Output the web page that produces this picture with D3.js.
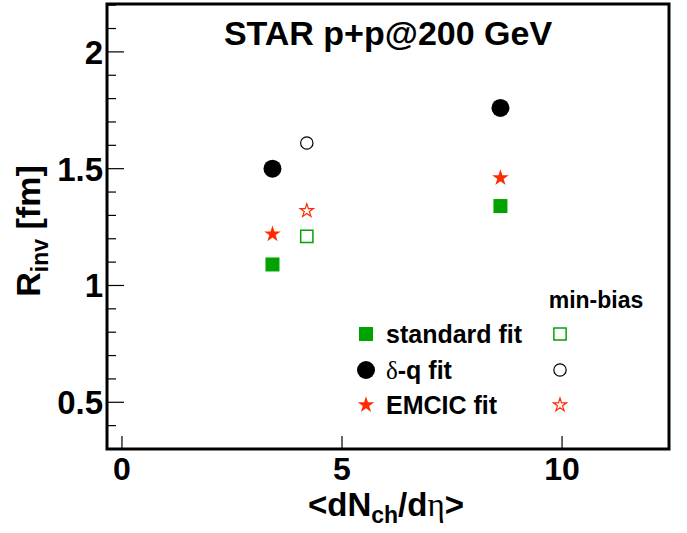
<!DOCTYPE html>
<html><head><meta charset="utf-8">
<script src="https://cdn.jsdelivr.net/npm/d3@7"></script>
<style>body{margin:0;background:#fff}svg{display:block}text{font-family:"Liberation Sans",Arial,sans-serif;font-weight:bold}</style>
</head><body>
<svg id="c" width="687" height="533"></svg>
<script>
// data
const xCent = [3.42, 8.6];          // centrality bins <dNch/deta>
const xMinBias = [4.2];             // min-bias
const stdFit = [1.09, 1.34];
const dqFit = [1.50, 1.76];
const emcicFit = [1.22, 1.46];
const stdMB = [1.21];
const dqMB = [1.61];
const emcicMB = [1.32];
const xTicks = [0, 5, 10];
const yTicks = [0.5, 1, 1.5, 2];
const legendLabels = ["standard fit", "-q fit", "EMCIC fit"];

const green = "#00a300", red = "#ff2a00";
const svg = d3.select("#c");
const L = 107, R = 669, T = 4, B = 449;
const x = d3.scaleLinear().domain([-0.34, 12.43]).range([L, R]);
const y = d3.scaleLinear().domain([0.3, 2.205]).range([B, T]);

// y minor ticks
const yMinor = d3.range(4, 23).map(d => d / 10);
svg.append("g").selectAll("line").data(yMinor).join("line")
  .attr("x1", L).attr("x2", d => yTicks.some(t => Math.abs(t - d) < 1e-6) ? L + 17 : L + 9)
  .attr("y1", d => y(d)).attr("y2", d => y(d))
  .attr("stroke", "#000").attr("stroke-width", 1.2);
svg.append("g").selectAll("line").data(xTicks).join("line")
  .attr("x1", d => x(d)).attr("x2", d => x(d)).attr("y1", B).attr("y2", B - 13)
  .attr("stroke", "#000").attr("stroke-width", 1.2);

// tick labels
svg.append("g").selectAll("text").data(yTicks).join("text")
  .attr("x", L - 4).attr("y", d => y(d) + 12).attr("text-anchor", "end")
  .attr("font-size", 33).text(d => d);
svg.append("g").selectAll("text").data(xTicks).join("text")
  .attr("x", d => x(d)).attr("y", B + 31).attr("text-anchor", "middle")
  .attr("font-size", 32).text(d => d);

// frame
svg.append("rect").attr("x", L).attr("y", T).attr("width", R - L).attr("height", B - T)
  .attr("fill", "none").attr("stroke", "#000").attr("stroke-width", 3);

// title
svg.append("text").attr("x", 388).attr("y", 45).attr("text-anchor", "middle")
  .attr("font-size", 34).text("STAR p+p@200 GeV");

// axis titles
const xt = svg.append("text").attr("x", 386).attr("y", 516).attr("text-anchor", "middle").attr("font-size", 33);
xt.append("tspan").text("<dN");
xt.append("tspan").attr("font-size", 23).attr("dy", 7).text("ch");
xt.append("tspan").attr("dy", -7).text("/d");
xt.append("tspan").attr("font-family", "Liberation Serif").attr("font-weight", "normal").text("η");
xt.append("tspan").text(">");

const yt = svg.append("text").attr("transform", "translate(40,231) rotate(-90)").attr("text-anchor", "middle").attr("font-size", 34);
yt.append("tspan").text("R");
yt.append("tspan").attr("font-size", 23).attr("dy", 8).text("inv");
yt.append("tspan").attr("dy", -8).text(" [fm]");

// markers
const sym = (type, size) => d3.symbol().type(type).size(size)();
function pts(xs, ys, type, size, fill, stroke, sw) {
  svg.append("g").selectAll("path").data(ys).join("path")
    .attr("transform", (d, i) => `translate(${x(xs[i])},${y(d)})`)
    .attr("d", sym(type, size)).attr("fill", fill).attr("stroke", stroke).attr("stroke-width", sw);
}
pts(xCent, stdFit, d3.symbolSquare, 196, green, "none", 0);
pts(xCent, dqFit, d3.symbolCircle, 254, "#000", "none", 0);
pts(xCent, emcicFit, d3.symbolStar, 85, red, "none", 0);
pts(xMinBias, stdMB, d3.symbolSquare, 150, "none", green, 1.5);
pts(xMinBias, dqMB, d3.symbolCircle, 120, "none", "#000", 1.2);
pts(xMinBias, emcicMB, d3.symbolStar, 55, "none", red, 1.2);

// legend
const legY = [334, 370, 405];
const lg = svg.append("g");
lg.append("path").attr("transform", `translate(366,${legY[0]})`).attr("d", sym(d3.symbolSquare, 196)).attr("fill", green);
lg.append("path").attr("transform", `translate(366,${legY[1]})`).attr("d", sym(d3.symbolCircle, 254)).attr("fill", "#000");
lg.append("path").attr("transform", `translate(366,${legY[2]})`).attr("d", sym(d3.symbolStar, 85)).attr("fill", red);
lg.append("path").attr("transform", `translate(560,${legY[0]})`).attr("d", sym(d3.symbolSquare, 150)).attr("fill", "none").attr("stroke", green).attr("stroke-width", 1.5);
lg.append("path").attr("transform", `translate(560,${legY[1]})`).attr("d", sym(d3.symbolCircle, 120)).attr("fill", "none").attr("stroke", "#000").attr("stroke-width", 1.2);
lg.append("path").attr("transform", `translate(560,${legY[2]})`).attr("d", sym(d3.symbolStar, 55)).attr("fill", "none").attr("stroke", red).attr("stroke-width", 1.2);
lg.append("text").attr("x", 386).attr("y", legY[0] + 9).attr("font-size", 25).text(legendLabels[0]);
const dq = lg.append("text").attr("x", 386).attr("y", legY[1] + 9).attr("font-size", 25);
dq.append("tspan").attr("font-family", "Liberation Serif").attr("font-weight", "normal").text("δ");
dq.append("tspan").text(legendLabels[1]);
lg.append("text").attr("x", 386).attr("y", legY[2] + 9).attr("font-size", 25).text(legendLabels[2]);
lg.append("text").attr("x", 596).attr("y", 308).attr("text-anchor", "middle").attr("font-size", 23).text("min-bias");
</script>
</body></html>
